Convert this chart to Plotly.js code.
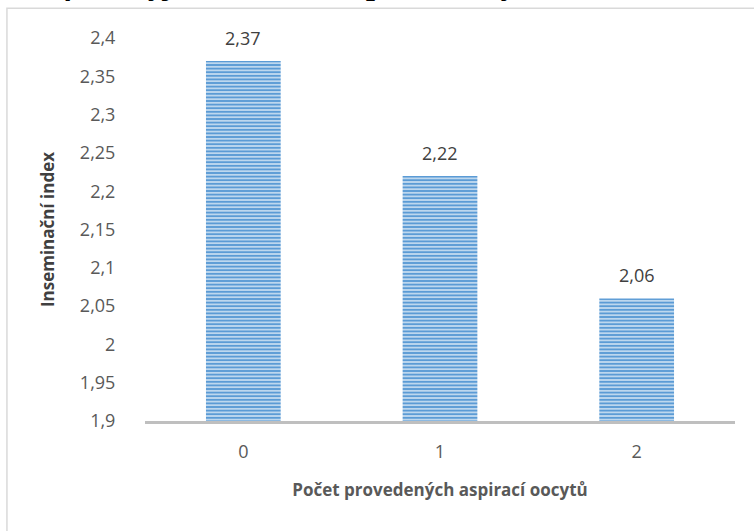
<!DOCTYPE html>
<html>
<head>
<meta charset="utf-8">
<script src="https://cdn.plot.ly/plotly-3.0.1.min.js"></script>
<style>html,body{margin:0;padding:0;background:#fff;}#chart{width:754px;height:531px;}</style>
</head>
<body>
<div id="chart"></div>
<script>
const categories = ['0', '1', '2'];
const values = [2.37, 2.22, 2.06];
const tickValues = [1.9, 1.95, 2, 2.05, 2.1, 2.15, 2.2, 2.25, 2.3, 2.35, 2.4];
const tickLabels = ['1,9', '1,95', '2', '2,05', '2,1', '2,15', '2,2', '2,25', '2,3', '2,35', '2,4'];
const valueLabels = values.map(v => v.toFixed(2).replace('.', ','));
const chartTitle = 'Grafické vyjádření vlivu aspirace oocytů na inseminační index';
const xTitle = 'Počet provedených aspirací oocytů';
const yTitle = 'Inseminační index';

const font = '"Open Sans", "Noto Sans", sans-serif';

const trace = {
  type: 'bar',
  x: categories,
  y: values,
  marker: {
    color: '#d6e6f5',
    line: {width: 0},
    pattern: {shape: '-', fgcolor: '#5b9bd5', bgcolor: '#d6e6f5', size: 3.6, solidity: 0.6}
  },
  hoverinfo: 'none'
};

const labelAnnotations = categories.map((c, i) => ({
  x: c, y: values[i], xref: 'x', yref: 'y',
  text: valueLabels[i], showarrow: false,
  yanchor: 'bottom', yshift: 9,
  font: {family: font, size: 18, color: '#404040'}
}));

const layout = {
  width: 754, height: 531,
  margin: {l: 145, r: 19, t: 38, b: 110},
  paper_bgcolor: '#ffffff', plot_bgcolor: '#ffffff',
  showlegend: false,
  bargap: 0.62,
  font: {family: font, color: '#595959'},
  xaxis: {
    type: 'category',
    showgrid: false, zeroline: false,
    showline: true, linecolor: '#bfbfbf', linewidth: 3,
    ticks: 'outside', ticklen: 12, tickcolor: 'rgba(0,0,0,0)',
    tickfont: {family: font, size: 18, color: '#595959'},
    title: {text: xTitle, font: {family: font, size: 17, color: '#595959', weight: 'bold'}, standoff: 23}
  },
  yaxis: {
    range: [1.9, 2.4],
    tickvals: tickValues, ticktext: tickLabels,
    showgrid: false, zeroline: false, showline: false,
    ticks: 'outside', ticklen: 25, tickcolor: 'rgba(0,0,0,0)',
    tickfont: {family: font, size: 18, color: '#595959'},
    title: {text: yTitle, font: {family: font, size: 17, color: '#404040', weight: 'bold'}, standoff: 20}
  },
  shapes: [{
    type: 'rect', xref: 'paper', yref: 'paper',
    x0: -0.234, x1: 1.2, y0: -0.6, y1: 1.078,
    line: {color: '#d9d9d9', width: 1.5}, layer: 'below'
  }],
  annotations: labelAnnotations.concat([{
    text: '<b><i>' + chartTitle + '</i></b>',
    xref: 'paper', yref: 'paper',
    x: -0.225, y: 1.143, xanchor: 'left', yanchor: 'middle',
    showarrow: false,
    font: {family: '"Liberation Serif", "Times New Roman", serif', size: 32, color: '#000000'}
  }])
};

Plotly.newPlot('chart', [trace], layout, {displayModeBar: false, staticPlot: true});
</script>
</body>
</html>
